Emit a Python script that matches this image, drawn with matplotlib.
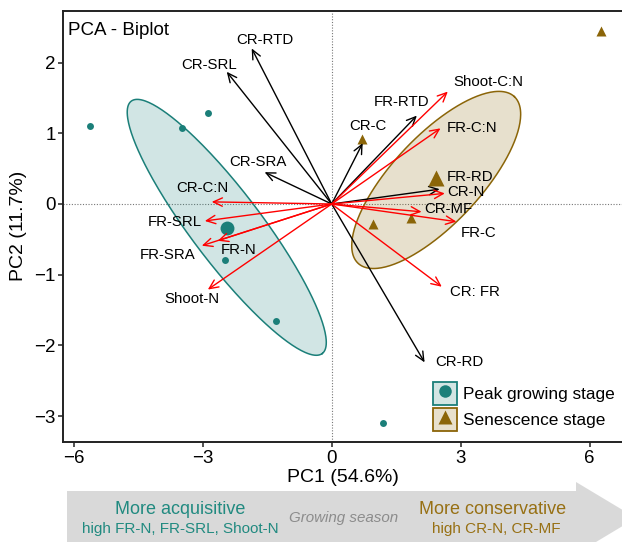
import numpy as np
import matplotlib.pyplot as plt
from matplotlib.patches import Patch, Polygon
from matplotlib.lines import Line2D

plt.rcParams['font.family'] = ['Liberation Sans', 'DejaVu Sans']

# individuals (PC1, PC2)
peak_x = [-5.63, -3.47, -2.88, -2.49, -1.30, 1.19]
peak_y = [1.10, 1.08, 1.28, -0.79, -1.65, -3.10]
sen_x = [6.26, 0.70, 0.95, 1.84]
sen_y = [2.45, 0.92, -0.28, -0.20]
peak_centroid = (-2.44, -0.34)
sen_centroid = (2.42, 0.37)

# ellipses: centre + two conjugate semi-axes (data units)
peak_ell = [(-2.44, -0.33), (2.22, -1.785), (0.654, 0.298)]
sen_ell = [(2.43, 0.34), (1.816, 1.179), (-0.748, 0.423)]

# variable arrows: name, tip x, tip y, label x, label y
black_vars = ['CR-RTD', 'CR-SRL', 'CR-SRA', 'FR-RTD', 'CR-C', 'FR-RD', 'CR-RD']
black_tx = [-1.86, -2.44, -1.56, 1.98, 0.72, 2.51, 2.16]
black_ty = [2.20, 1.87, 0.45, 1.25, 0.86, 0.21, -2.24]
black_lx = [-1.56, -2.84, -1.72, 1.63, 0.84, 3.21, 2.98]
black_ly = [2.32, 1.97, 0.59, 1.44, 1.10, 0.38, -2.24]

red_vars = ['Shoot-C:N', 'FR-C:N', 'CR-N', 'CR-MF', 'FR-C', 'CR: FR',
            'CR-C:N', 'FR-SRL', 'FR-SRA', 'FR-N', 'Shoot-N']
red_tx = [2.70, 2.53, 2.63, 2.09, 2.90, 2.56, -2.79, -2.95, -3.02, -2.65, -2.88]
red_ty = [1.59, 1.07, 0.15, -0.11, -0.25, -1.17, 0.03, -0.24, -0.59, -0.52, -1.21]
red_lx = [3.65, 3.26, 3.12, 2.70, 3.42, 3.33, -3.00, -3.65, -3.81, -2.16, -3.26]
red_ly = [1.73, 1.07, 0.17, -0.07, -0.41, -1.25, 0.23, -0.25, -0.72, -0.65, -1.34]

teal = '#1B7F79'
gold = '#8B6508'

fig = plt.figure(figsize=(6.22, 5.42), dpi=100)
ax = fig.add_axes([0.1018, 0.1845, 0.8982, 0.7958])

ax.axhline(0, color='#777777', ls=(0, (1, 1.5)), lw=0.8, zorder=1)
ax.axvline(0, color='#777777', ls=(0, (1, 1.5)), lw=0.8, zorder=1)

t = np.linspace(0, 2 * np.pi, 300)
for (c, a, b), col in [(peak_ell, teal), (sen_ell, gold)]:
    ex = c[0] + np.cos(t) * a[0] + np.sin(t) * b[0]
    ey = c[1] + np.cos(t) * a[1] + np.sin(t) * b[1]
    ax.fill(ex, ey, facecolor=col, alpha=0.2, zorder=2)
    ax.plot(ex, ey, color=col, lw=1.1, zorder=2)


def draw_arrows(names, tx, ty, lx, ly, col):
    for n, x, y, a, b in zip(names, tx, ty, lx, ly):
        ax.annotate('', xy=(x, y), xytext=(0, 0),
                    arrowprops=dict(arrowstyle='->,head_length=0.65,head_width=0.3',
                                    color=col, lw=1.0, shrinkA=0, shrinkB=0,
                                    mutation_scale=10), zorder=4)
        ax.text(a, b, n, ha='center', va='center', fontsize=10.8, color='black', zorder=5)


draw_arrows(black_vars, black_tx, black_ty, black_lx, black_ly, 'black')
draw_arrows(red_vars, red_tx, red_ty, red_lx, red_ly, 'red')

ax.plot(peak_x, peak_y, 'o', color=teal, ms=5, mec='none', zorder=3)
ax.plot(sen_x, sen_y, '^', color=gold, ms=6.5, mec='none', zorder=3)
ax.plot(*peak_centroid, 'o', color=teal, ms=10, mec='none', zorder=3)
ax.plot(*sen_centroid, '^', color=gold, ms=11.5, mec='none', zorder=6)

ax.set_xlim(-6.24, 6.75)
ax.set_ylim(-3.366, 2.734)
ax.set_xticks([-6, -3, 0, 3, 6])
ax.set_yticks([-3, -2, -1, 0, 1, 2])
ax.set_xticklabels(['\u22126', '\u22123', '0', '3', '6'])
ax.set_yticklabels(['\u22123', '\u22122', '\u22121', '0', '1', '2'])
ax.tick_params(labelsize=13.5, length=3.5, width=1.1, pad=2, color='#222222')
for s in ['left', 'bottom', 'top']:
    ax.spines[s].set_linewidth(1.4)
    ax.spines[s].set_color('#222222')
ax.spines['right'].set_visible(False)
ax.set_xlabel('PC1 (54.6%)', fontsize=14, labelpad=2)
ax.set_ylabel('PC2 (11.7%)', fontsize=14, labelpad=5)
ax.text(0.008, 0.955, 'PCA - Biplot', transform=ax.transAxes, fontsize=13.5,
        ha='left', va='center')

h1 = (Patch(facecolor='#D2E5E3', edgecolor=teal, lw=1.3),
      Line2D([], [], ls='', marker='o', color=teal, ms=9, mec='none'))
h2 = (Patch(facecolor='#E8E0CC', edgecolor=gold, lw=1.3),
      Line2D([], [], ls='', marker='^', color=gold, ms=10, mec='none'))
fig.legend([h1, h2], ['Peak growing stage', 'Senescence stage'],
           loc='upper left', bbox_to_anchor=(433 / 622, 1 - 382 / 542),
           frameon=False, fontsize=12.4, handlelength=1.4, handleheight=1.7,
           handletextpad=0.35, labelspacing=0.17, borderpad=0, borderaxespad=0)

# growing season banner
W, H = 622, 542
banner = [(67, 491), (576, 491), (576, 482), (636, 518), (576, 554), (576, 560), (67, 560)]
fig.patches.append(Polygon([(x / W, 1 - y / H) for x, y in banner], closed=True,
                           transform=fig.transFigure, facecolor='#D9D9D9',
                           edgecolor='none', zorder=0))
fig.text(180 / W, 1 - 509 / H, 'More acquisitive', color='#218A80', fontsize=13,
         ha='center', va='center')
fig.text(180 / W, 1 - 529 / H, 'high FR-N, FR-SRL, Shoot-N', color='#218A80', fontsize=11,
         ha='center', va='center')
fig.text(344 / W, 1 - 518 / H, 'Growing season', color='#8C8C8C', fontsize=10.9,
         style='italic', ha='center', va='center')
fig.text(493 / W, 1 - 509 / H, 'More conservative', color='#977014', fontsize=13,
         ha='center', va='center')
fig.text(496 / W, 1 - 529 / H, 'high CR-N, CR-MF', color='#977014', fontsize=11,
         ha='center', va='center')

fig.savefig('out.png', dpi=100)
